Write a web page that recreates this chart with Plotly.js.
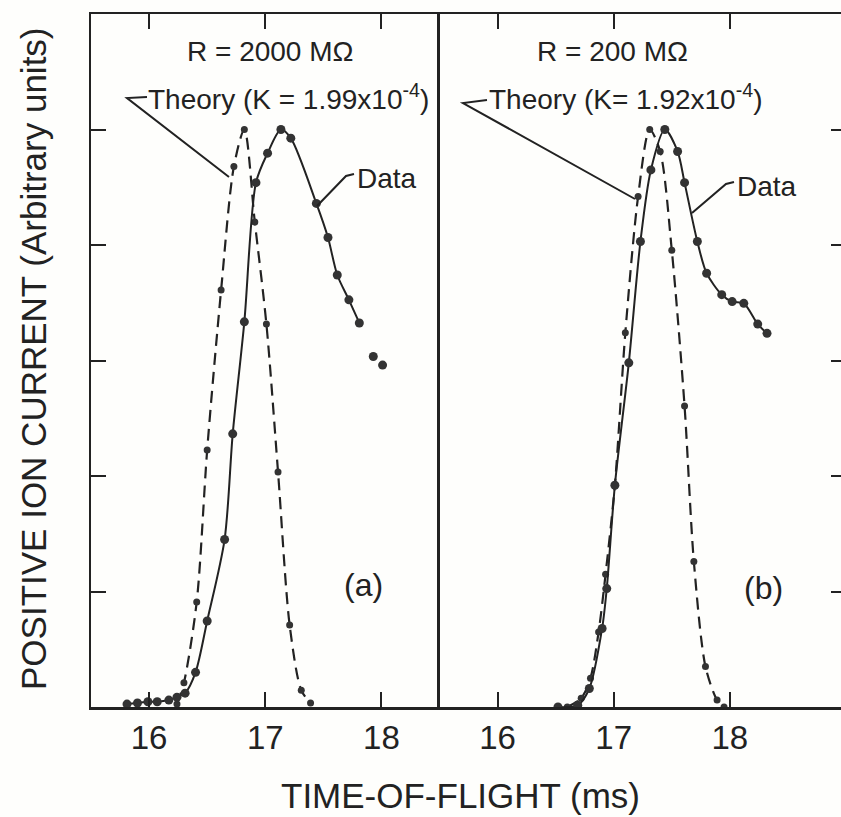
<!DOCTYPE html>
<html>
<head>
<meta charset="utf-8">
<script src="https://cdn.plot.ly/plotly-3.0.1.min.js"></script>
<style>
html, body { margin: 0; padding: 0; overflow: hidden; background: #fefefc; }
#chart { width: 846px; height: 817px; }
</style>
</head>
<body>
<div id="chart"></div>
<script>
// ---- data ----
const xTickVals = [16, 17, 18];
const xTickText = ["16", "17", "18"];

// Panel (a): R = 2000 MOhm
const leftDataX = [15.81, 15.90, 15.99, 16.07, 16.17, 16.24, 16.31, 16.40, 16.50, 16.65, 16.72, 16.82, 16.92, 17.02, 17.135, 17.22, 17.44, 17.54, 17.62, 17.72, 17.81];
const leftDataY = [0.005, 0.007, 0.009, 0.009, 0.012, 0.017, 0.024, 0.060, 0.149, 0.290, 0.473, 0.667, 0.908, 0.959, 1.000, 0.985, 0.872, 0.813, 0.748, 0.705, 0.665];
const leftExtraX = [17.93, 18.01];
const leftExtraY = [0.607, 0.592];
const leftTheoryX = [16.24, 16.30, 16.41, 16.50, 16.62, 16.73, 16.82, 16.91, 17.01, 17.11, 17.21, 17.31, 17.39];
const leftTheoryY = [0.005, 0.042, 0.182, 0.445, 0.722, 0.936, 1.000, 0.840, 0.663, 0.407, 0.142, 0.029, 0.007];

// Panel (b): R = 200 MOhm
const rightDataX = [16.52, 16.69, 16.79, 16.90, 16.94, 17.01, 17.13, 17.23, 17.32, 17.44, 17.55, 17.61, 17.72, 17.80, 17.93, 18.02, 18.12, 18.24, 18.32];
const rightDataY = [0.000, 0.003, 0.032, 0.136, 0.205, 0.384, 0.596, 0.806, 0.930, 1.000, 0.962, 0.908, 0.806, 0.751, 0.714, 0.702, 0.699, 0.663, 0.647];
const rightTheoryX = [16.60, 16.72, 16.80, 16.87, 16.93, 17.01, 17.10, 17.21, 17.31, 17.40, 17.50, 17.61, 17.69, 17.79, 17.89, 17.95];
const rightTheoryY = [0.000, 0.015, 0.050, 0.130, 0.230, 0.384, 0.648, 0.884, 1.000, 0.962, 0.791, 0.521, 0.252, 0.070, 0.012, 0.000];

// text
const labelR_a = "R = 2000 MΩ";
const labelR_b = "R = 200 MΩ";
const labelTheory_a = "Theory (K = 1.99x10<sup>-4</sup>)";
const labelTheory_b = "Theory (K= 1.92x10<sup>-4</sup>)";
const labelData = "Data";
const xTitle = "TIME-OF-FLIGHT (ms)";
const yTitle = "POSITIVE ION CURRENT (Arbitrary units)";

// ---- layout helpers (pixel -> paper) ----
const W = 846, H = 817, ML = 91, MR = 0, MT = 14, MB = 110;
const PW = W - ML - MR, PH = H - MT - MB;
const X = px => (px - ML) / PW;
const Y = py => (H - MB - py) / PH;
const split = X(439.5);

const ink = "#222222";
const FONT = "Liberation Sans, Arial, sans-serif";

function dataTrace(x, y, xa, ya) {
  return { x, y, xaxis: xa, yaxis: ya, type: "scatter", mode: "lines+markers",
    line: { color: ink, width: 2, shape: "spline", smoothing: 0.8 },
    marker: { color: "#333", size: 9 }, hoverinfo: "skip", showlegend: false };
}
function theoryTrace(x, y, xa, ya) {
  return { x, y, xaxis: xa, yaxis: ya, type: "scatter", mode: "lines+markers",
    line: { color: ink, width: 2.2, dash: "12px,7px", shape: "spline", smoothing: 0.8 },
    marker: { color: "#333", size: 7 }, hoverinfo: "skip", showlegend: false };
}

const traces = [
  theoryTrace(leftTheoryX, leftTheoryY, "x", "y"),
  dataTrace(leftDataX, leftDataY, "x", "y"),
  { x: leftExtraX, y: leftExtraY, xaxis: "x", yaxis: "y", type: "scatter", mode: "markers",
    marker: { color: "#333", size: 9 }, hoverinfo: "skip", showlegend: false },
  theoryTrace(rightTheoryX, rightTheoryY, "x2", "y2"),
  dataTrace(rightDataX, rightDataY, "x2", "y2")
];

const axBase = {
  showgrid: false, zeroline: false, showline: true, linecolor: ink, linewidth: 2.5,
  ticks: "inside", ticklen: 15, tickwidth: 2, tickcolor: ink,
  tickfont: { family: FONT, size: 33, color: ink }, fixedrange: true
};

const layout = {
  width: W, height: H,
  margin: { l: ML, r: MR, t: MT, b: MB, pad: 0 },
  paper_bgcolor: "#fefefc", plot_bgcolor: "#fefefc",
  showlegend: false,
  xaxis: Object.assign({}, axBase, { domain: [0, split], range: [15.5, 18.5], mirror: "ticks",
    tickvals: xTickVals, ticktext: xTickText }),
  xaxis2: Object.assign({}, axBase, { domain: [split, 1], range: [15.5, 19.0], mirror: "ticks",
    tickvals: xTickVals, ticktext: xTickText, anchor: "y2" }),
  yaxis: Object.assign({}, axBase, { domain: [0, 1], range: [0, 1.2], mirror: false,
    dtick: 0.2, tick0: 0, showticklabels: false }),
  yaxis2: Object.assign({}, axBase, { domain: [0, 1], range: [0, 1.2], mirror: true, side: "right",
    anchor: "x2", dtick: 0.2, tick0: 0, showticklabels: false }),
  annotations: [
    { xref: "paper", yref: "paper", x: X(270), y: Y(52), text: labelR_a, showarrow: false,
      font: { family: FONT, size: 28, color: ink }, xanchor: "center", yanchor: "middle" },
    { xref: "paper", yref: "paper", x: X(612), y: Y(52), text: labelR_b, showarrow: false,
      font: { family: FONT, size: 28, color: ink }, xanchor: "center", yanchor: "middle" },
    { xref: "paper", yref: "paper", x: X(146), y: Y(97), text: labelTheory_a, showarrow: false,
      font: { family: FONT, size: 28, color: ink }, xanchor: "left", yanchor: "middle" },
    { xref: "paper", yref: "paper", x: X(487), y: Y(97), text: labelTheory_b, showarrow: false,
      font: { family: FONT, size: 28, color: ink }, xanchor: "left", yanchor: "middle" },
    { xref: "paper", yref: "paper", x: X(355), y: Y(178), text: labelData, showarrow: false,
      font: { family: FONT, size: 28, color: ink }, xanchor: "left", yanchor: "middle" },
    { xref: "paper", yref: "paper", x: X(735), y: Y(186), text: labelData, showarrow: false,
      font: { family: FONT, size: 28, color: ink }, xanchor: "left", yanchor: "middle" },
    { xref: "paper", yref: "paper", x: X(363), y: Y(585), text: "(a)", showarrow: false,
      font: { family: FONT, size: 32, color: ink }, xanchor: "center", yanchor: "middle" },
    { xref: "paper", yref: "paper", x: X(763), y: Y(588), text: "(b)", showarrow: false,
      font: { family: FONT, size: 32, color: ink }, xanchor: "center", yanchor: "middle" },
    { xref: "paper", yref: "paper", x: X(460), y: Y(795), text: xTitle, showarrow: false,
      font: { family: FONT, size: 35, color: ink }, xanchor: "center", yanchor: "middle" },
    { xref: "paper", yref: "paper", x: X(33), y: Y(359), text: yTitle, showarrow: false, textangle: -90,
      font: { family: FONT, size: 35, color: ink }, xanchor: "center", yanchor: "middle" }
  ],
  shapes: [
    { type: "path", xref: "paper", yref: "paper",
      path: `M ${X(147)} ${Y(97)} L ${X(127)} ${Y(98)} L ${X(229)} ${Y(177)}`,
      line: { color: ink, width: 2 } },
    { type: "path", xref: "paper", yref: "paper",
      path: `M ${X(487)} ${Y(100)} L ${X(463)} ${Y(103)} L ${X(635)} ${Y(199)}`,
      line: { color: ink, width: 2 } },
    { type: "path", xref: "paper", yref: "paper",
      path: `M ${X(354)} ${Y(174)} L ${X(346)} ${Y(176)} L ${X(317)} ${Y(206)}`,
      line: { color: ink, width: 2 } },
    { type: "path", xref: "paper", yref: "paper",
      path: `M ${X(734)} ${Y(182)} L ${X(726)} ${Y(184)} L ${X(692)} ${Y(213)}`,
      line: { color: ink, width: 2 } }
  ]
};

Plotly.newPlot("chart", traces, layout, { staticPlot: true, displayModeBar: false });
</script>
</body>
</html>
